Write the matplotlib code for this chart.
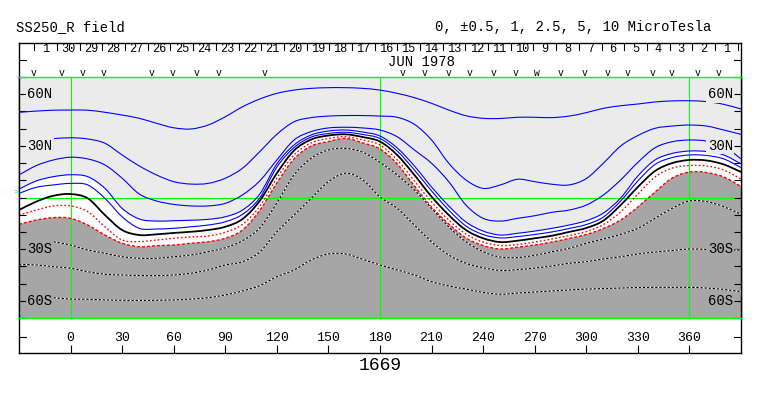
import matplotlib
matplotlib.use('Agg')
import matplotlib.pyplot as plt
from matplotlib.path import Path
from matplotlib.patches import PathPatch

nan = float('nan')

# ---------------- data ----------------
LON = list(range(-30, 391, 10))

B1 = [49.5, 50.2, 50.7, 50.8, 50.7, 49.5, 47.9, 46.0, 43.1, 40.5, 39.8, 42.1, 46.9, 52.7, 57.2, 60.5, 62.4, 63.4, 63.8, 63.8, 63.4, 62.4, 60.5, 58.0, 54.7, 50.8, 47.5, 46.0, 45.9, 46.6, 46.6, 46.4, 47.3, 49.3, 51.8, 53.3, 54.3, 55.5, 56.1, 56.2, 55.7, 54.1, 51.4]
B2 = [nan, nan, 34.2, 34.7, 34.0, 31.5, 24.7, 18.3, 13.1, 9.2, 7.8, 8.2, 11.2, 17.0, 26.6, 36.7, 44.0, 46.4, 47.3, 47.6, 47.6, 47.3, 46.6, 42.5, 33.4, 19.9, 10.2, 5.3, 7.3, 10.6, 9.2, 7.7, 7.3, 11.0, 20.0, 29.9, 36.0, 40.2, 41.5, 42.1, 41.5, 39.2, 36.7]
B3 = [13.1, 18.5, 21.8, 23.4, 22.4, 18.9, 11.2, 2.0, -2.0, -4.0, -4.9, -4.9, -3.4, 1.5, 9.6, 21.8, 33.4, 38.3, 40.4, 40.8, 40.4, 39.2, 35.3, 27.6, 19.9, 9.2, -4.4, -12.1, -13.7, -12.1, -10.6, -8.6, -7.3, -4.4, 1.5, 10.2, 20.4, 28.9, 32.4, 33.4, 32.8, 29.9, 22.4]
B4 = [4.9, 9.6, 12.1, 13.2, 12.1, 5.3, -6.3, -12.5, -13.7, -13.5, -13.2, -12.7, -11.2, -7.3, 1.9, 19.5, 30.5, 36.3, 38.6, 39.2, 38.0, 35.7, 28.8, 18.3, 6.1, -4.9, -14.2, -19.5, -21.8, -20.8, -19.5, -17.9, -16.0, -13.5, -9.0, -0.3, 12.5, 21.8, 25.6, 27.0, 26.7, 24.7, 19.5]
B5 = [2.4, 5.9, 7.3, 8.2, 7.3, -0.5, -11.2, -17.9, -18.3, -17.9, -17.0, -16.0, -14.1, -9.8, -0.3, 17.7, 29.0, 35.1, 37.2, 37.9, 36.6, 34.3, 27.0, 16.0, 3.8, -7.3, -16.6, -21.5, -23.5, -22.7, -21.5, -20.0, -18.0, -15.7, -11.3, -2.0, 9.6, 19.2, 23.2, 24.7, 24.4, 22.4, 17.4]
K0 = [-7.3, -2.4, 1.0, 2.0, -0.5, -10.2, -18.9, -21.8, -21.4, -20.6, -19.9, -18.9, -17.0, -12.5, -2.0, 14.1, 27.3, 33.7, 36.0, 36.7, 35.1, 32.5, 24.7, 13.1, 0.5, -10.2, -18.9, -23.7, -25.9, -25.1, -23.7, -22.2, -20.0, -17.7, -13.4, -4.4, 6.1, 15.4, 20.0, 21.8, 21.5, 19.2, 14.8]
R1 = [-10.2, -7.3, -4.9, -4.9, -8.2, -17.0, -24.7, -25.6, -24.7, -23.7, -22.9, -22.4, -20.2, -15.6, -5.2, 11.3, 24.7, 31.7, 34.3, 35.3, 33.4, 30.5, 21.8, 9.6, -2.6, -13.1, -21.2, -25.9, -27.9, -27.3, -25.9, -24.1, -22.1, -19.8, -15.7, -8.4, 2.0, 11.9, 17.1, 18.6, 18.3, 16.0, 10.7]
R2 = [-15.6, -13.1, -11.7, -12.1, -16.0, -21.8, -26.6, -28.6, -28.0, -27.6, -26.6, -25.7, -23.7, -18.9, -7.6, 8.4, 22.4, 29.9, 32.5, 34.3, 31.7, 28.2, 19.5, 6.7, -5.5, -15.4, -23.5, -27.9, -29.9, -28.9, -27.6, -25.9, -23.8, -21.5, -18.0, -13.1, -5.5, 3.2, 11.3, 14.8, 14.5, 11.9, 6.4]
D1 = [nan, nan, -25.7, -27.6, -30.5, -32.4, -34.4, -35.3, -35.3, -34.4, -33.4, -31.5, -29.2, -25.1, -17.7, -3.2, 13.1, 22.8, 27.6, 28.5, 26.3, 20.4, 13.1, 4.4, -6.3, -17.0, -25.7, -31.5, -34.6, -34.9, -33.6, -31.5, -29.5, -26.6, -24.1, -21.4, -17.9, -12.1, -6.3, -2.0, -2.4, -5.3, -9.8]
D2 = [-38.8, -39.2, -40.2, -41.1, -43.1, -44.6, -45.0, -45.3, -45.4, -45.0, -44.0, -42.1, -39.2, -37.3, -31.7, -19.9, -10.2, -0.5, 9.2, 14.1, 10.2, 0.3, -6.3, -16.0, -25.7, -33.4, -38.2, -40.8, -42.4, -41.9, -41.0, -39.8, -38.2, -37.3, -35.7, -34.4, -32.8, -31.7, -30.8, -29.9, -30.2, -30.5, -30.5]
D3 = [nan, nan, -58.2, -59.0, -59.1, -59.5, -59.7, -59.8, -59.7, -59.5, -59.0, -58.2, -56.6, -54.3, -51.2, -46.0, -42.1, -36.3, -32.8, -32.8, -35.9, -39.2, -42.1, -45.0, -48.9, -51.4, -53.2, -55.1, -56.2, -55.5, -54.9, -54.3, -53.7, -53.2, -52.9, -52.6, -52.3, -52.2, -52.2, -52.2, -52.6, -53.4, -54.7]

DAYS = [1] + list(range(30, 0, -1))          # day labels, left to right
DAY1_LON = -14.5                              # longitude of first day label
DEG_PER_DAY = 360.0 / 27.2753                 # Carrington rotation rate
OBS_LON = [-21.3, -5.2, 6.8, 19.0, 47.0, 59.6, 73.6, 86.1, 112.8, 193.2, 206.1,
           219.7, 231.9, 245.8, 259.0, 285.1, 299.0, 312.2, 323.8,
           338.3, 349.4, 364.5, 377.0]
OBS_DOUBLE_LON = [271.0]
XTICKS = list(range(0, 361, 30))
LAT_LABELS = [(60, '60N'), (30, '30N'), (-30, '30S'), (-60, '60S')]
TITLE_L = 'SS250_R field'
TITLE_R = '0, \u00b10.5, 1, 2.5, 5, 10 MicroTesla'
MONTH = 'JUN 1978'
ROT = '1669'

# ---------------- style ----------------
FONT = 'Liberation Mono'
LIGHT = '#ebebeb'
DARK = '#a6a6a6'
GREEN = '#00ff00'
W, H = 763, 396


def runs(xs, ys):
    """Split a series into contiguous runs of valid points."""
    out, cur = [], []
    for x, y in zip(xs, ys):
        if y != y:
            if len(cur) > 1:
                out.append(cur)
            cur = []
        else:
            cur.append((x, y))
    if len(cur) > 1:
        out.append(cur)
    return out


def curve_verts(pts):
    """Smooth Bezier path (Catmull-Rom style) through the given points."""
    verts = [pts[0]]
    codes = [Path.MOVETO]
    n = len(pts)
    for i in range(n - 1):
        p0 = pts[i - 1] if i > 0 else pts[i]
        p1 = pts[i]
        p2 = pts[i + 1]
        p3 = pts[i + 2] if i + 2 < n else pts[i + 1]
        c1 = (p1[0] + (p2[0] - p0[0]) / 6.0, p1[1] + (p2[1] - p0[1]) / 6.0)
        c2 = (p2[0] - (p3[0] - p1[0]) / 6.0, p2[1] - (p3[1] - p1[1]) / 6.0)
        verts += [c1, c2, p2]
        codes += [Path.CURVE4] * 3
    return verts, codes


def draw_curve(ax, xs, ys, **kw):
    for pts in runs(xs, ys):
        v, c = curve_verts(pts)
        ax.add_patch(PathPatch(Path(v, c), fc='none', **kw))


def fill_curve(ax, xs, ys, edge_y, color):
    for pts in runs(xs, ys):
        v, c = curve_verts(pts)
        v = v + [(pts[-1][0], edge_y), (pts[0][0], edge_y), pts[0]]
        c = c + [Path.LINETO, Path.LINETO, Path.CLOSEPOLY]
        ax.add_patch(PathPatch(Path(v, c), fc=color, ec='none', lw=0, zorder=1))


fig = plt.figure(figsize=(W / 100, H / 100), dpi=100)
fig.patch.set_facecolor('white')


def fx(px):
    return px / W


def fy(py):
    return 1 - py / H


# outer frame axes (x in longitude, y in pixel rows)
axo = fig.add_axes([fx(19), fy(353), fx(741) - fx(19), fy(43) - fy(353)])
axo.set_xlim(-30, 390)
axo.set_ylim(353, 43)
for s in axo.spines.values():
    s.set_color('black')
    s.set_linewidth(1.0)
axo.set_yticks([])
axo.set_xticks(XTICKS)
axo.set_xticklabels([])
axo.tick_params(axis='x', direction='in', length=5.8, width=0.8, top=False)

for lon in XTICKS:
    axo.text(lon, 338, str(lon), ha='center', va='center', fontsize=9.5, family=FONT)

# day strip
for i, d in enumerate(DAYS):
    lon = DAY1_LON + i * DEG_PER_DAY
    axo.text(lon, 49.3, str(d), ha='center', va='center', fontsize=8.6, family=FONT)
for i in range(len(DAYS) + 1):
    lon = DAY1_LON + (i - 0.5) * DEG_PER_DAY
    axo.plot([lon, lon], [44, 50], color='black', lw=0.8)
axo.text(184.5, 62.5, MONTH, ha='left', va='center', fontsize=10, family=FONT)
for lon in OBS_LON:
    axo.text(lon, 73.2, 'v', ha='center', va='center', fontsize=7, family=FONT)
for lon in OBS_DOUBLE_LON:
    axo.text(lon, 73.2, 'w', ha='center', va='center', fontsize=7, family=FONT)
tl = 7 / 1.719
for yy in (60, 337):
    axo.plot([-30, -30 + tl], [yy, yy], color='black', lw=0.8)
    axo.plot([390 - tl, 390], [yy, yy], color='black', lw=0.8)

# main map axes
ax = fig.add_axes([fx(19), fy(318), fx(741) - fx(19), fy(77) - fy(318)])
ax.set_xlim(-30, 390)
ax.set_ylim(-70, 70)
ax.set_facecolor('white')
fill_curve(ax, LON, B4, 70, LIGHT)
fill_curve(ax, LON, R2, -70, DARK)

for v in (0, 180, 360):
    ax.axvline(v, color=GREEN, lw=0.8, zorder=1.5)
ax.axhline(0, color=GREEN, lw=0.8, zorder=1.5)

for ser in (B1, B2, B3, B4, B5):
    draw_curve(ax, LON, ser, ec='blue', lw=0.8, zorder=2)
draw_curve(ax, LON, K0, ec='black', lw=1.3, zorder=2.2)
draw_curve(ax, LON, R1, ec='red', lw=1.0, ls=(0, (1.2, 1.6)), zorder=2)
draw_curve(ax, LON, R2, ec='red', lw=1.0, ls=(0, (2.2, 1.4)), zorder=2)
for ser in (D1, D2, D3):
    draw_curve(ax, LON, ser, ec='white', lw=0.8, zorder=2)
    draw_curve(ax, LON, ser, ec='black', lw=0.8, ls=(0, (2.2, 1.5)), zorder=2.1)

for side in ('top', 'bottom'):
    ax.spines[side].set_color(GREEN)
    ax.spines[side].set_linewidth(1.0)
for side in ('left', 'right'):
    ax.spines[side].set_color('black')
    ax.spines[side].set_linewidth(1.0)
ax.set_xticks([])
ax.set_yticks(list(range(-70, 71, 10)))
ax.tick_params(axis='y', direction='in', length=5, width=0.8, left=True, right=True,
               labelleft=False, labelright=False)

for lat, txt in LAT_LABELS:
    bg = LIGHT if lat > 0 else DARK
    ax.annotate(txt, xy=(0, lat), xycoords=('axes fraction', 'data'), xytext=(8, 0),
                textcoords='offset pixels', ha='left', va='center', fontsize=10,
                family=FONT, zorder=5,
                bbox=dict(boxstyle='square,pad=0.1', fc=bg, ec='none'))
    ax.annotate(txt, xy=(1, lat), xycoords=('axes fraction', 'data'), xytext=(-8, 0),
                textcoords='offset pixels', ha='right', va='center', fontsize=10,
                family=FONT, zorder=5,
                bbox=dict(boxstyle='square,pad=0.1', fc=bg, ec='none'))

ax.annotate('>', xy=(0, 3), xycoords=('axes fraction', 'data'), xytext=(-1, 0),
            textcoords='offset pixels', ha='right', va='center', fontsize=6,
            color=GREEN, family=FONT, annotation_clip=False)

fig.text(fx(15.7), fy(27.5), TITLE_L, ha='left', va='center', fontsize=10, family=FONT)
fig.text(fx(711), fy(27.5), TITLE_R, ha='right', va='center', fontsize=10, family=FONT)
fig.text(fx(380), fy(366), ROT, ha='center', va='center', fontsize=13, family=FONT)

fig.savefig('out.png', dpi=100)
